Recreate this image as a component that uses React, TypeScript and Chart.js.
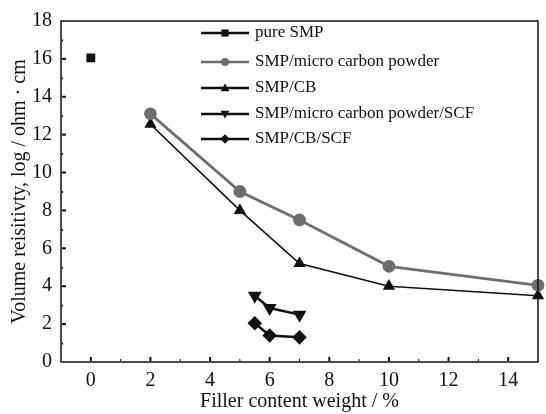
import React, { useEffect, useRef } from "react";
import { Chart, registerables } from "chart.js";

Chart.register(...registerables);

const seriesNames = [
  "pure SMP",
  "SMP/micro carbon powder",
  "SMP/CB",
  "SMP/micro carbon powder/SCF",
  "SMP/CB/SCF",
];
const pureX = [0];
const pureY = [16.05];
const microX = [2, 5, 7, 10, 15];
const microY = [13.1, 9.0, 7.5, 5.05, 4.05];
const cbX = [2, 5, 7, 10, 15];
const cbY = [12.55, 8.0, 5.2, 4.0, 3.5];
const microScfX = [5.5, 6, 7];
const microScfY = [3.5, 2.85, 2.5];
const cbScfX = [5.5, 6, 7];
const cbScfY = [2.05, 1.4, 1.3];
const xTickLabels = ["0", "2", "4", "6", "8", "10", "12", "14"];
const yTickLabels = ["0", "2", "4", "6", "8", "10", "12", "14", "16", "18"];

const FONT = "'Liberation Serif', 'Times New Roman', serif";

const pts = (xs: number[], ys: number[]) => xs.map((x, i) => ({ x, y: ys[i] }));

const frameAndTicks = {
  id: "frameAndTicks",
  afterDatasetsDraw(chart: any) {
    const { ctx, chartArea, scales } = chart;
    const { left, right, top, bottom } = chartArea;
    ctx.save();
    ctx.strokeStyle = "#111";
    ctx.lineWidth = 1.5;
    ctx.strokeRect(left, top, right - left, bottom - top);
    ctx.fillStyle = "#111";
    const xs = scales.x;
    for (let v = 0; v <= 14; v++) {
      const px = xs.getPixelForValue(v);
      if (v % 2 === 0) ctx.fillRect(px - 1, bottom - 5, 2, 4);
      else ctx.fillRect(px - 0.5, bottom - 3, 1, 2);
    }
    const ys = scales.y;
    for (let v = 1; v <= 17; v++) {
      const py = ys.getPixelForValue(v);
      if (v % 2 === 0) ctx.fillRect(left + 1, py - 1, 4, 2);
      else ctx.fillRect(left + 1, py - 0.5, 1, 2);
    }
    ctx.restore();
  },
};

function drawMarker(ctx: any, style: string, rot: number, x: number, y: number, r: number) {
  ctx.save();
  ctx.translate(x, y);
  ctx.rotate((rot * Math.PI) / 180);
  ctx.beginPath();
  if (style === "rect") {
    ctx.rect(-r * 0.9, -r * 0.9, r * 1.8, r * 1.8);
  } else if (style === "circle") {
    ctx.arc(0, 0, r, 0, Math.PI * 2);
  } else if (style === "triangle") {
    ctx.moveTo(0, -r * 1.1);
    ctx.lineTo(r * 1.1, r * 0.8);
    ctx.lineTo(-r * 1.1, r * 0.8);
    ctx.closePath();
  } else if (style === "rectRot") {
    ctx.moveTo(0, -r * 1.2);
    ctx.lineTo(r * 1.2, 0);
    ctx.lineTo(0, r * 1.2);
    ctx.lineTo(-r * 1.2, 0);
    ctx.closePath();
  }
  ctx.fill();
  ctx.restore();
}

const legendY = [33, 62, 88, 114, 139];

const customLegend = {
  id: "customLegend",
  afterDraw(chart: any) {
    const { ctx } = chart;
    ctx.save();
    chart.data.datasets.forEach((ds: any, i: number) => {
      const y = legendY[i];
      const x0 = 201;
      const x1 = 249;
      ctx.strokeStyle = ds.borderColor;
      ctx.lineWidth = 2.5;
      ctx.beginPath();
      ctx.moveTo(x0, y);
      ctx.lineTo(x1, y);
      ctx.stroke();
      ctx.fillStyle = ds.pointBackgroundColor;
      drawMarker(ctx, ds.pointStyle, ds.pointRotation || 0, (x0 + x1) / 2, y, 4);
      ctx.fillStyle = "#111";
      ctx.font = `17px ${FONT}`;
      ctx.textBaseline = "middle";
      ctx.textAlign = "left";
      ctx.fillText(ds.label, 255, y);
    });
    ctx.restore();
  },
};

export default function App() {
  const ref = useRef<HTMLCanvasElement | null>(null);
  useEffect(() => {
    document.body.style.margin = "0";
    const black = "#111111";
    const gray = "#6e6e6e";
    const chart = new Chart(ref.current as HTMLCanvasElement, {
      type: "line",
      data: {
        datasets: [
          {
            label: seriesNames[0],
            data: pts(pureX, pureY),
            borderColor: black,
            backgroundColor: black,
            pointBackgroundColor: black,
            pointBorderColor: black,
            pointStyle: "rect",
            pointRadius: 4.5,
            borderWidth: 2.5,
            showLine: false,
          },
          {
            label: seriesNames[1],
            data: pts(microX, microY),
            borderColor: gray,
            backgroundColor: gray,
            pointBackgroundColor: gray,
            pointBorderColor: gray,
            pointStyle: "circle",
            pointRadius: 5,
            borderWidth: 2.8,
          },
          {
            label: seriesNames[2],
            data: pts(cbX, cbY),
            borderColor: black,
            backgroundColor: black,
            pointBackgroundColor: black,
            pointBorderColor: black,
            pointStyle: "triangle",
            pointRadius: 5.5,
            borderWidth: 1.6,
          },
          {
            label: seriesNames[3],
            data: pts(microScfX, microScfY),
            borderColor: black,
            backgroundColor: black,
            pointBackgroundColor: black,
            pointBorderColor: black,
            pointStyle: "triangle",
            pointRotation: 180,
            pointRadius: 5.5,
            borderWidth: 2.5,
          },
          {
            label: seriesNames[4],
            data: pts(cbScfX, cbScfY),
            borderColor: black,
            backgroundColor: black,
            pointBackgroundColor: black,
            pointBorderColor: black,
            pointStyle: "rectRot",
            pointRadius: 5.5,
            borderWidth: 2.5,
          },
        ],
      },
      options: {
        animation: false,
        responsive: false,
        maintainAspectRatio: false,
        clip: false as any,
        layout: { padding: { top: 12, right: 2, left: 8, bottom: 0 } },
        plugins: { legend: { display: false }, tooltip: { enabled: false } },
        scales: {
          x: {
            type: "linear",
            min: -1,
            max: 15,
            grid: { display: false, drawTicks: false },
            border: { display: false },
            afterFit: (s: any) => {
              s.height = 52;
            },
            afterBuildTicks: (s: any) => {
              s.ticks = xTickLabels.map((t) => ({ value: Number(t) }));
            },
            ticks: {
              color: "#111",
              padding: 7,
              maxRotation: 0,
              autoSkip: false,
              font: { family: FONT, size: 20 },
              callback: (v: any) => String(v),
            },
            title: {
              display: true,
              text: "Filler content weight / %",
              color: "#111",
              padding: { top: 0, bottom: 0 },
              font: { family: FONT, size: 20 },
            },
          },
          y: {
            type: "linear",
            min: 0,
            max: 18,
            grid: { display: false, drawTicks: false },
            border: { display: false },
            afterFit: (s: any) => {
              s.width = 53;
            },
            afterBuildTicks: (s: any) => {
              s.ticks = yTickLabels.map((t) => ({ value: Number(t) }));
            },
            ticks: {
              color: "#111",
              padding: 9,
              autoSkip: false,
              font: { family: FONT, size: 20 },
              callback: (v: any) => String(v),
            },
            title: {
              display: true,
              text: "Volume reisitivty, log / ohm · cm",
              color: "#111",
              padding: { top: 0, bottom: 0 },
              font: { family: FONT, size: 20 },
            },
          },
        },
      },
      plugins: [frameAndTicks, customLegend],
    } as any);
    return () => chart.destroy();
  }, []);
  return (
    <div style={{ position: "absolute", left: 0, top: 0, width: 546, height: 414, background: "#fff" }}>
      <canvas ref={ref} width={546} height={414} />
    </div>
  );
}
